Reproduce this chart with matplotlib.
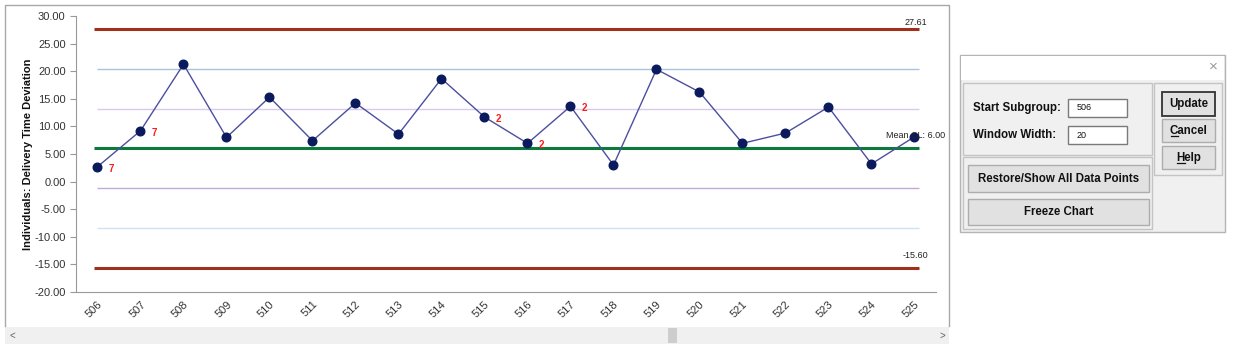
import matplotlib.pyplot as plt
from matplotlib.patches import Rectangle

plt.rcParams['font.family'] = ['Liberation Sans', 'DejaVu Sans']

subgroups = list(range(506, 526))
values = [2.7, 9.2, 21.25, 8.0, 15.3, 7.4, 14.24, 8.6, 18.65, 11.7,
          6.93, 13.64, 3.0, 20.34, 16.23, 6.93, 8.8, 13.5, 3.2, 8.13]
rule_flags = {506: "7", 507: "7", 515: "2", 516: "2", 517: "2"}

ucl = 27.61
cl = 6.00
lcl = -15.60
zone_lines = [20.41, 13.20, -1.20, -8.41]
zone_colors = ['#a9c3de', '#d9c9ec', '#c2a9dc', '#cde3f3']

W, H = 1233, 348
fig = plt.figure(figsize=(W / 100, H / 100), dpi=100)

# background / widgets drawn in pixel coordinates
bg = fig.add_axes([0, 0, 1, 1])
bg.set_xlim(0, W)
bg.set_ylim(H, 0)
bg.axis('off')


def box(x0, y0, x1, y1, fc='none', ec='#a0a0a0', lw=1.0, z=1):
    bg.add_patch(Rectangle((x0, y0), x1 - x0, y1 - y0, facecolor=fc,
                           edgecolor=ec, linewidth=lw, zorder=z))


# chart panel frame and scrollbar
bg.plot([5, 5, 949, 949], [326, 5, 5, 326], color='#a8a8a8', lw=1)
box(5, 327, 949, 344, fc='#f0f0f0', ec='none')
box(668, 328, 677, 343, fc='#cdcdcd', ec='none', z=2)
bg.text(12, 335.5, '<', fontsize=7, color='#606060', ha='center', va='center')
bg.text(942, 335.5, '>', fontsize=7, color='#606060', ha='center', va='center')

# dialog
box(960, 55, 1225, 232, fc='#f0f0f0', ec='#b4b4b4')
box(961, 56, 1224, 80, fc='white', ec='none')
bg.text(1213, 67, '\u00d7', fontsize=11, color='#9a9a9a', ha='center', va='center')
box(963, 83, 1152, 155, ec='#c4c4c4')
box(963, 157, 1152, 229, ec='#c4c4c4')
box(1154, 83, 1222, 175, ec='#c4c4c4')

lbl = dict(fontsize=8.3, fontweight='bold', color='#111111', va='center')
bg.text(973, 108, 'Start Subgroup:', **lbl)
bg.text(973, 135, 'Window Width:', **lbl)
box(1068, 99, 1127, 117, fc='white', ec='#7a7a7a')
box(1068, 126, 1127, 144, fc='white', ec='#7a7a7a')
bg.text(1077, 108, '506', fontsize=6.5, color='#111111', va='center')
bg.text(1077, 135, '20', fontsize=6.5, color='#111111', va='center')

btn = dict(fontsize=8.3, fontweight='bold', color='#111111', ha='center', va='center')
box(1162, 92, 1215, 116, fc='#e1e1e1', ec='#333333', lw=1.3)
bg.text(1188.5, 104, 'Update', **btn)
box(1162, 119, 1215, 142, fc='#e1e1e1', ec='#adadad')
bg.text(1188.5, 130.5, 'Cancel', **btn)
bg.plot([1170.5, 1178], [136.3, 136.3], color='#111111', lw=0.9, zorder=3)
box(1162, 146, 1215, 169, fc='#e1e1e1', ec='#adadad')
bg.text(1188.5, 157.5, 'Help', **btn)
bg.plot([1177, 1185], [163.3, 163.3], color='#111111', lw=0.9, zorder=3)
box(968, 165, 1149, 192, fc='#e1e1e1', ec='#adadad')
bg.text(1058.5, 178.5, 'Restore/Show All Data Points', **btn)
box(968, 199, 1149, 225, fc='#e1e1e1', ec='#adadad')
bg.text(1058.5, 212, 'Freeze Chart', **btn)

# control chart
ax = fig.add_axes([76 / W, 1 - 292 / H, 860 / W, 276 / H])
ax.set_facecolor('none')
x0, x1 = subgroups[0], subgroups[-1]
ax.hlines([ucl, lcl], x0 - 0.08, x1 + 0.1, color='#a0301e', lw=2.2, zorder=2)
ax.hlines(cl, x0 - 0.08, x1 + 0.1, color='#0b7a3b', lw=2.2, zorder=2)
for yv, c in zip(zone_lines, zone_colors):
    ax.hlines(yv, x0, x1 + 0.1, color=c, lw=1.0, zorder=1)

ax.plot(subgroups, values, color='#4b4f9e', lw=1.0, marker='o', ms=6.2,
        mfc='#0b1a5c', mec='#0b1a5c', zorder=3)
for sg, flag in rule_flags.items():
    ax.annotate(flag, (sg, values[subgroups.index(sg)]), xytext=(10, -1.5),
                textcoords='offset points', color='#ff1a1a', fontsize=7,
                fontweight='bold', ha='center', va='center')

ax.text(x1 + 0.03, ucl + 1.3, f'{ucl:.2f}', fontsize=6.5, color='#222222',
        ha='center', va='center')
ax.text(x1 + 0.03, lcl + 2.3, f'{lcl:.2f}', fontsize=6.5, color='#222222',
        ha='center', va='center')
ax.text(x1 + 0.72, cl + 2.4, f'Mean CL: {cl:.2f}', fontsize=6.5, color='#222222',
        ha='right', va='center', zorder=4)

ax.set_xlim(505.5, 525.5)
ax.set_ylim(-20, 30)
ax.set_yticks(range(-20, 31, 5))
ax.set_yticklabels([f'{v:.2f}' for v in range(-20, 31, 5)])
ax.set_xticks(subgroups)
ax.set_xticklabels([str(s) for s in subgroups], rotation=45, ha='right',
                   rotation_mode='anchor')
ax.tick_params(axis='x', length=0, pad=5, labelsize=8, labelcolor='#333333')
ax.tick_params(axis='y', length=4, color='#999999', labelsize=8, labelcolor='#333333')
for s in ('top', 'right'):
    ax.spines[s].set_visible(False)
for s in ('left', 'bottom'):
    ax.spines[s].set_color('#999999')
ax.set_ylabel('Individuals: Delivery Time Deviation', fontsize=8,
              fontweight='bold', color='#111111', labelpad=1)

fig.savefig('out.png', dpi=100)
